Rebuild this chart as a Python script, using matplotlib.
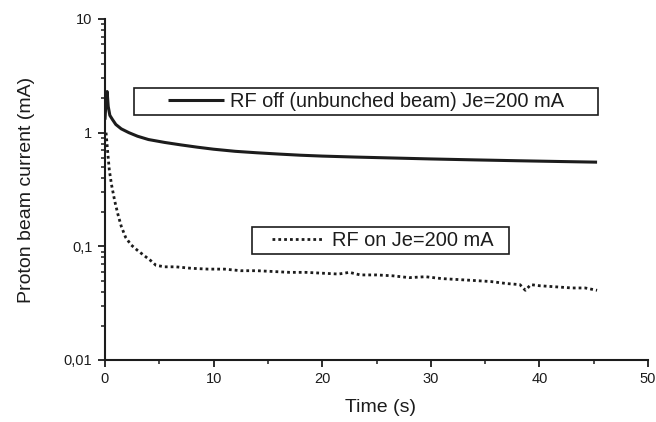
import matplotlib
matplotlib.use("Agg")
import matplotlib.pyplot as plt
from matplotlib.ticker import LogLocator, FixedLocator, FuncFormatter, NullFormatter
from matplotlib.patches import Rectangle

plt.rcParams['font.family'] = ['Liberation Sans', 'DejaVu Sans']

# --- data ---
rf_off_t = [0, 0.1, 0.2, 0.3, 0.45, 0.7, 1.0, 1.5, 2.2, 3.0, 4.0, 5.5, 7, 8.5,
            10, 12, 14, 16, 18, 20, 23, 26, 30, 34, 38, 42, 45.3]
rf_off_i = [1.3, 1.9, 2.3, 1.7, 1.42, 1.3, 1.18, 1.08, 1.0, 0.93, 0.87, 0.82, 0.78, 0.745,
            0.715, 0.685, 0.665, 0.648, 0.633, 0.622, 0.61, 0.60, 0.587, 0.576, 0.566, 0.557, 0.55]

rf_on_t = [0.1, 0.25, 0.4, 0.6, 0.9, 1.2, 1.5, 1.9, 2.4, 3.0, 3.6, 4.2, 4.7, 5.5, 6.5,
           8, 9.5, 11, 12.5, 14, 15.5, 17, 18.5, 20, 21.5, 22.5, 23.5, 25, 26.5, 28,
           29.5, 31, 32.5, 34, 35.5, 37, 38.2, 38.7, 39.2, 40, 41.5, 43, 44.2, 45.3]
rf_on_i = [1.0, 0.68, 0.47, 0.35, 0.25, 0.19, 0.15, 0.12, 0.103, 0.092, 0.083, 0.075, 0.068,
           0.066, 0.066, 0.064, 0.063, 0.063, 0.061, 0.061, 0.060, 0.059, 0.059, 0.058,
           0.057, 0.059, 0.056, 0.056, 0.055, 0.053, 0.054, 0.052, 0.051, 0.050, 0.049,
           0.047, 0.046, 0.041, 0.046, 0.045, 0.044, 0.043, 0.043, 0.041]

label_off = "RF off (unbunched beam) Je=200 mA"
label_on = "RF on Je=200 mA"
x_ticks = [0, 10, 20, 30, 40, 50]
y_ticks = [0.01, 0.1, 1, 10]
y_tick_labels = ["0,01", "0,1", "1", "10"]

ink = "#1c1c1c"

fig = plt.figure(figsize=(6.56, 4.22), dpi=100)
ax = fig.add_axes([0.160, 0.147, 0.828, 0.808])

l_off, = ax.plot(rf_off_t, rf_off_i, color=ink, lw=2.2, solid_capstyle='butt')
l_on, = ax.plot(rf_on_t, rf_on_i, color=ink, lw=2.0, linestyle=(0, (1, 1.1)))

ax.set_yscale('log')
ax.set_xlim(0, 50)
ax.set_ylim(0.01, 10)

ax.xaxis.set_major_locator(FixedLocator(x_ticks))
ax.xaxis.set_minor_locator(FixedLocator([5, 15, 25, 35, 45]))
ax.yaxis.set_major_locator(FixedLocator(y_ticks))
ax.yaxis.set_major_formatter(FuncFormatter(lambda v, p: dict(zip(y_ticks, y_tick_labels)).get(v, "")))
ax.yaxis.set_minor_locator(LogLocator(base=10, subs=range(2, 10)))
ax.yaxis.set_minor_formatter(NullFormatter())

for s in ['top', 'right']:
    ax.spines[s].set_visible(False)
for s in ['left', 'bottom']:
    ax.spines[s].set_linewidth(1.5)
    ax.spines[s].set_color(ink)

ax.tick_params(which='major', direction='out', length=5, width=1.3, colors=ink, labelsize=10.5, pad=4)
ax.tick_params(which='minor', direction='out', length=3, width=1.1, colors=ink)

ax.set_xlabel("Time (s)", fontsize=14, color=ink)
ax.set_ylabel("Proton beam current (mA)", fontsize=14, color=ink)
ax.xaxis.set_label_coords(0.508, -0.115)
ax.yaxis.set_label_coords(-0.128, 0.50)

# legend 1
leg1 = ax.legend([l_off], [label_off], loc='center left', bbox_to_anchor=(0.116, 0.759),
                 frameon=False, fontsize=14.4, handlelength=2.8, handletextpad=0.3,
                 borderpad=0, borderaxespad=0)
ax.add_artist(leg1)
ax.add_patch(Rectangle((0.053, 0.718), 0.854, 0.080, transform=ax.transAxes,
                       fill=False, edgecolor=ink, lw=1.2, clip_on=False))
# legend 2
leg2 = ax.legend([l_on], [label_on], loc='center left', bbox_to_anchor=(0.307, 0.350),
                 frameon=False, fontsize=14.4, handlelength=2.6, handletextpad=0.4,
                 borderpad=0, borderaxespad=0)
ax.add_patch(Rectangle((0.271, 0.312), 0.472, 0.077, transform=ax.transAxes,
                       fill=False, edgecolor=ink, lw=1.2, clip_on=False))
for leg in (leg1, leg2):
    for t in leg.get_texts():
        t.set_color(ink)

fig.savefig("out.png", dpi=100)
